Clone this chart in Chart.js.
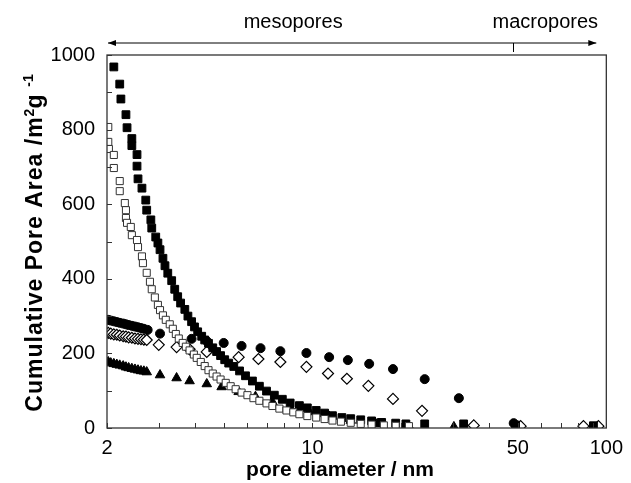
<!DOCTYPE html>
<html>
<head>
  <meta charset="UTF-8">
  <script src="https://cdn.jsdelivr.net/npm/chart.js"></script>
  <title>Cumulative pore area</title>
  <style>
    body { margin: 0; background: #fff; }
  </style>
</head>
<body>
  <canvas id="grafico" width="631" height="483"></canvas>

<script>
  // filled squares
  var cheioQuadX = [2.11, 2.21, 2.23, 2.32, 2.34, 2.43, 2.43, 2.53, 2.53, 2.55, 2.63, 2.71, 2.73, 2.82, 2.84, 2.93, 2.98, 3.03, 3.10, 3.15, 3.22, 3.32, 3.40, 3.48, 3.56, 3.68, 3.77, 3.88, 3.97, 4.07, 4.20, 4.30, 4.43, 4.58, 4.72, 4.87, 5.03, 5.19, 5.40, 5.65, 5.92, 6.25, 6.60, 6.98, 7.42, 7.90, 8.40, 9.03, 9.61, 10.3, 11.0, 11.7, 12.6, 13.5, 14.6, 15.9, 17.2, 19.2, 20.8, 24.1, 32.7, 49.1, 90.4];
  var cheioQuadY = [968, 922, 882, 840, 805, 776, 757, 733, 702, 668, 643, 611, 584, 558, 536, 512, 496, 478, 455, 435, 415, 395, 372, 352, 335, 318, 300, 285, 271, 258, 246, 236, 227, 215, 205, 194, 183, 174, 165, 153, 140, 126, 112, 99, 88, 77, 67, 60, 54, 47, 40, 33, 28, 25, 22, 19, 15, 13, 11, 11, 11, 8, 6, 5];

  // open squares
  var abertoQuadX = [2.02, 2.02, 2.03, 2.11, 2.11, 2.21, 2.21, 2.30, 2.32, 2.32, 2.34, 2.41, 2.43, 2.53, 2.55, 2.63, 2.65, 2.73, 2.80, 2.84, 2.91, 2.98, 3.03, 3.10, 3.17, 3.27, 3.35, 3.43, 3.51, 3.62, 3.71, 3.82, 3.95, 4.04, 4.17, 4.30, 4.43, 4.58, 4.72, 4.87, 5.07, 5.27, 5.48, 5.74, 6.01, 6.30, 6.60, 6.98, 7.31, 7.72, 8.16, 8.61, 9.03, 9.61, 10.3, 11.0, 11.7, 12.5, 13.5, 14.6, 15.9, 17.5, 19.2, 21.3];
  var abertoQuadY = [807, 767, 748, 732, 697, 662, 635, 603, 584, 563, 550, 539, 517, 504, 485, 460, 442, 416, 392, 372, 350, 330, 316, 302, 290, 278, 266, 252, 240, 228, 218, 208, 197, 188, 177, 166, 155, 146, 138, 130, 121, 112, 104, 95, 88, 80, 73, 66, 59, 52, 47, 42, 37, 32, 28, 24, 20, 17, 14, 11, 9, 7, 6, 5];

  // filled circles
  var circuloX = [2.02, 2.06, 2.11, 2.16, 2.21, 2.27, 2.32, 2.37, 2.43, 2.49, 2.55, 2.61, 2.67, 2.75, 3.03, 3.88, 4.37, 4.99, 5.74, 6.66, 7.78, 9.54, 11.4, 13.2, 15.6, 18.8, 24.1, 31.5, 48.4];
  var circuloY = [290, 288, 286, 284, 282, 280, 278, 276, 274, 272, 270, 268, 266, 263, 253, 239, 233, 228, 220, 214, 206, 201, 190, 182, 172, 158, 131, 80, 13];

  // open diamonds
  var losangoX = [2.02, 2.06, 2.11, 2.16, 2.21, 2.27, 2.32, 2.37, 2.43, 2.49, 2.55, 2.61, 2.67, 2.73, 3.00, 3.45, 3.82, 4.37, 5.61, 6.55, 7.78, 9.54, 11.3, 13.1, 15.5, 18.8, 23.6, 35.4, 51.1, 83.6, 94.0];
  var losangoY = [255, 253, 251, 250, 248, 246, 245, 243, 242, 240, 239, 238, 237, 236, 223, 217, 211, 204, 190, 185, 177, 164, 146, 132, 113, 78, 46, 7, 5, 5, 5];

  // filled triangles
  var trianguloX = [2.02, 2.06, 2.11, 2.16, 2.21, 2.27, 2.32, 2.37, 2.43, 2.49, 2.55, 2.61, 2.67, 2.73, 3.03, 3.45, 3.82, 4.37, 4.91, 5.61, 6.40, 7.31, 8.41, 9.76, 11.4, 13.5, 16.6, 21.3, 30.3];
  var trianguloY = [177, 174, 172, 170, 168, 166, 163, 161, 159, 157, 155, 153, 152, 150, 142, 134, 126, 118, 110, 97, 84, 70, 56, 43, 31, 20, 11, 5, 3];

  var xTicks = [2, 3, 4, 5, 6, 7, 8, 9, 10, 20, 30, 40, 50, 60, 70, 80, 90, 100];
  var xRotulos = [2, 10, 50, 100];
  var yMenores = [0, 100, 200, 300, 400, 500, 600, 700, 800, 900, 1000];

  function juntar(xs, ys) {
    var pontos = [];
    for (var i = 0; i < xs.length; i++) {
      pontos.push({ x: xs[i], y: ys[i] });
    }
    return pontos;
  }

  var fonte = "'Liberation Sans', Arial, sans-serif";

  // y title with the m2 g-1 superscripts
  var tituloY = [
    { t: 'Cumulative Pore Area /m', f: 'bold 23px ', sobe: 0, esp: '1px' },
    { t: '2', f: 'bold 14px ', sobe: 8, esp: '0px' },
    { t: 'g', f: 'bold 23px ', sobe: 0, esp: '0px' },
    { t: '  -1', f: 'bold 14px ', sobe: 9, esp: '0px' }
  ];

  function desenharTituloY(ctx, cx, cy) {
    ctx.save();
    ctx.translate(cx, cy);
    ctx.rotate(-Math.PI / 2);
    ctx.fillStyle = '#000';
    ctx.textAlign = 'left';
    ctx.textBaseline = 'alphabetic';
    var total = 0;
    tituloY.forEach(function (p) {
      ctx.font = p.f + fonte;
      ctx.letterSpacing = p.esp;
      p.w = ctx.measureText(p.t).width;
      total += p.w;
    });
    var x = -total / 2;
    tituloY.forEach(function (p) {
      ctx.font = p.f + fonte;
      ctx.letterSpacing = p.esp;
      ctx.fillText(p.t, x, 8 - p.sobe);
      x += p.w;
    });
    ctx.restore();
  }

  // frame, inward ticks, titles and the meso/macro arrow on top
  var extras = {
    id: 'extras',
    afterDraw: function (chart) {
      var ctx = chart.ctx;
      var a = chart.chartArea;
      var sx = chart.scales.x;
      var sy = chart.scales.y;
      ctx.save();
      ctx.strokeStyle = '#333';
      ctx.lineWidth = 1.3;
      ctx.strokeRect(a.left, a.top, a.right - a.left, a.bottom - a.top);

      ctx.lineWidth = 1;
      ctx.beginPath();
      xTicks.forEach(function (v) {
        var px = Math.round(sx.getPixelForValue(v)) + 0.5;
        ctx.moveTo(px, a.bottom);
        ctx.lineTo(px, a.bottom - 5);
      });
      yMenores.forEach(function (v) {
        var py = Math.round(sy.getPixelForValue(v)) + 0.5;
        ctx.moveTo(a.left, py);
        ctx.lineTo(a.left + 5, py);
      });
      ctx.stroke();

      // arrow
      var ya = 43;
      var x1 = a.left + 1;
      var x2 = a.right - 10;
      ctx.strokeStyle = '#000';
      ctx.fillStyle = '#000';
      ctx.beginPath();
      ctx.moveTo(x1, ya);
      ctx.lineTo(x2, ya);
      var x50 = Math.round(sx.getPixelForValue(50)) - 4.5;
      ctx.moveTo(x50, ya);
      ctx.lineTo(x50, ya + 9);
      ctx.stroke();
      ctx.beginPath();
      ctx.moveTo(x1, ya);
      ctx.lineTo(x1 + 8, ya - 3);
      ctx.lineTo(x1 + 8, ya + 3);
      ctx.closePath();
      ctx.moveTo(x2, ya);
      ctx.lineTo(x2 - 8, ya - 3);
      ctx.lineTo(x2 - 8, ya + 3);
      ctx.closePath();
      ctx.fill();

      ctx.font = '20px ' + fonte;
      ctx.textAlign = 'center';
      ctx.textBaseline = 'alphabetic';
      ctx.fillText('mesopores', sx.getPixelForValue(8.6), 28);
      ctx.fillText('macropores', sx.getPixelForValue(62), 28);

      ctx.font = 'bold 21px ' + fonte;
      ctx.textBaseline = 'middle';
      ctx.fillText('pore diameter / nm', 340, 470);
      ctx.restore();

      desenharTituloY(ctx, 34, 243);
    }
  };

  var conjuntos = [
    {
      label: 'open squares',
      data: juntar(abertoQuadX, abertoQuadY),
      pointStyle: 'rect',
      pointRadius: 5,
      backgroundColor: '#fff',
      borderColor: '#333',
      borderWidth: 1
    },
    {
      label: 'filled squares',
      data: juntar(cheioQuadX, cheioQuadY),
      pointStyle: 'rect',
      pointRadius: 5.5,
      backgroundColor: '#000',
      borderColor: '#000',
      borderWidth: 1
    },
    {
      label: 'open diamonds',
      data: juntar(losangoX, losangoY),
      pointStyle: 'rectRot',
      pointRadius: 5.5,
      backgroundColor: '#fff',
      borderColor: '#000',
      borderWidth: 1.2
    },
    {
      label: 'filled circles',
      data: juntar(circuloX, circuloY),
      pointStyle: 'circle',
      pointRadius: 4.5,
      backgroundColor: '#000',
      borderColor: '#000',
      borderWidth: 1
    },
    {
      label: 'filled triangles',
      data: juntar(trianguloX, trianguloY),
      pointStyle: 'triangle',
      pointRadius: 5.5,
      backgroundColor: '#000',
      borderColor: '#000',
      borderWidth: 1
    }
  ];

  new Chart(document.getElementById('grafico'), {
    type: 'scatter',
    data: { datasets: conjuntos },
    options: {
      responsive: false,
      animation: false,
      layout: { padding: { top: 55, right: 23, left: 0, bottom: 0 } },
      plugins: {
        legend: { display: false },
        tooltip: { enabled: false }
      },
      scales: {
        x: {
          type: 'logarithmic',
          min: 2,
          max: 100,
          grid: { display: false, drawTicks: false },
          border: { display: false },
          afterBuildTicks: function (scale) {
            scale.ticks = xTicks.map(function (v) { return { value: v }; });
          },
          afterFit: function (scale) { scale.height = 55; },
          ticks: {
            autoSkip: false,
            maxRotation: 0,
            padding: 8,
            color: '#000',
            font: { family: fonte, size: 20 },
            callback: function (v) {
              return xRotulos.indexOf(v) >= 0 ? String(v) : '';
            }
          }
        },
        y: {
          min: 0,
          max: 1000,
          grid: { display: false, drawTicks: false },
          border: { display: false },
          afterFit: function (scale) { scale.width = 107; },
          ticks: {
            stepSize: 200,
            padding: 12,
            color: '#000',
            font: { family: fonte, size: 20 },
            callback: function (v) { return String(v); }
          }
        }
      }
    },
    plugins: [extras]
  });
</script>
</body>
</html>
